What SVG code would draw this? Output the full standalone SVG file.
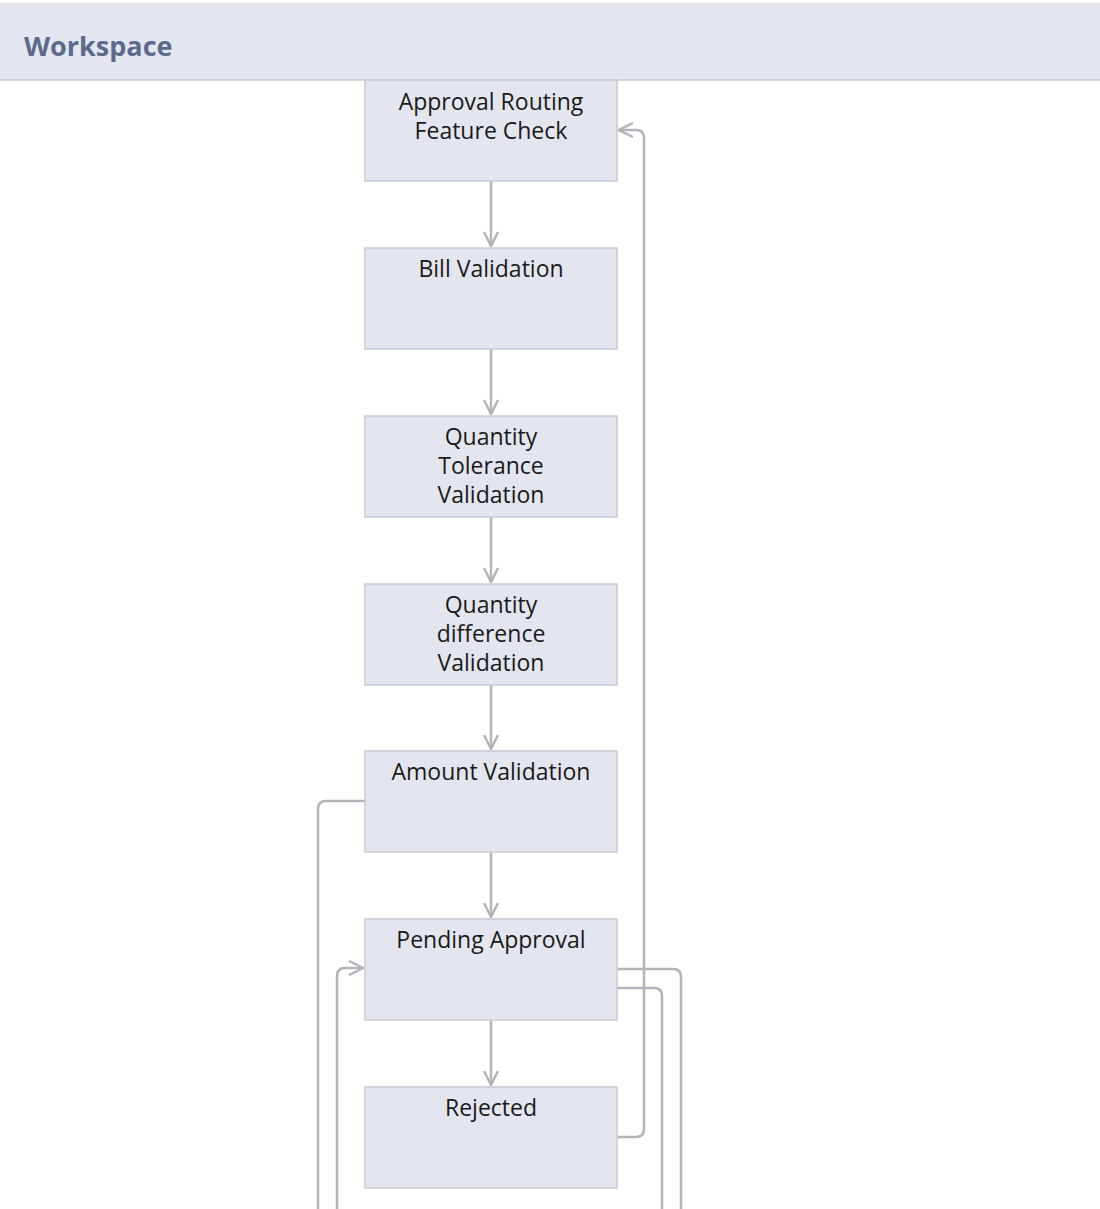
<svg xmlns="http://www.w3.org/2000/svg" width="1100" height="1209" viewBox="0 0 1100 1209">
<style>
.n{fill:#e4e6ef;stroke:#c9cad2;stroke-width:1.5}
.t{font-family:"Open Sans",sans-serif;font-size:23px;fill:#1a1a1a;text-anchor:middle}
.c{fill:none;stroke:#b4b4ba;stroke-width:2.5;stroke-linejoin:round}
</style>
<defs><marker id="a" viewBox="0 0 16 16" refX="15" refY="8" markerWidth="16" markerHeight="16" markerUnits="userSpaceOnUse" orient="auto"><path d="M1,1 L15,8 L1,15" fill="none" stroke="#b4b4ba" stroke-width="2.5"/></marker></defs>
<rect x="0" y="0" width="1100" height="1209" fill="#fff"/>
<g id="header"><rect x="0" y="3" width="1100" height="77" fill="#e4e7f0"/><line x1="0" y1="80" x2="1100" y2="80" stroke="#c9cad2" stroke-width="1.5"/>
<text x="24" y="56" font-family="'Open Sans',sans-serif" font-size="27" font-weight="bold" fill="#5b6b8c">Workspace</text></g>
<g id="connectors">
<path class="c" marker-end="url(#a)" d="M491,181V246"/>
<path class="c" marker-end="url(#a)" d="M491,349V414"/>
<path class="c" marker-end="url(#a)" d="M491,517V582"/>
<path class="c" marker-end="url(#a)" d="M491,685V749"/>
<path class="c" marker-end="url(#a)" d="M491,852V917"/>
<path class="c" marker-end="url(#a)" d="M491,1020V1085"/>
<path class="c" marker-end="url(#a)" d="M617,1137H636Q644,1137 644,1129V138Q644,130 636,130H619"/>
<path class="c" d="M365,801H326Q318,801 318,809V1209"/>
<path class="c" marker-end="url(#a)" d="M337,1209V976Q337,968 345,968H363"/>
<path class="c" d="M617,969H673Q681,969 681,977V1209"/>
<path class="c" d="M617,988H654Q662,988 662,996V1209"/>
</g>
<g id="n1"><rect class="n" x="365" y="80" width="252" height="101"/><text class="t" x="491" y="110">Approval Routing</text><text class="t" x="491" y="139">Feature Check</text></g>
<g id="n2"><rect class="n" x="365" y="248" width="252" height="101"/><text class="t" x="491" y="277">Bill Validation</text></g>
<g id="n3"><rect class="n" x="365" y="416" width="252" height="101"/><text class="t" x="491" y="445">Quantity</text><text class="t" x="491" y="474">Tolerance</text><text class="t" x="491" y="503">Validation</text></g>
<g id="n4"><rect class="n" x="365" y="584" width="252" height="101"/><text class="t" x="491" y="613">Quantity</text><text class="t" x="491" y="642">difference</text><text class="t" x="491" y="671">Validation</text></g>
<g id="n5"><rect class="n" x="365" y="751" width="252" height="101"/><text class="t" x="491" y="780">Amount Validation</text></g>
<g id="n6"><rect class="n" x="365" y="919" width="252" height="101"/><text class="t" x="491" y="948">Pending Approval</text></g>
<g id="n7"><rect class="n" x="365" y="1087" width="252" height="101"/><text class="t" x="491" y="1116">Rejected</text></g>
</svg>
